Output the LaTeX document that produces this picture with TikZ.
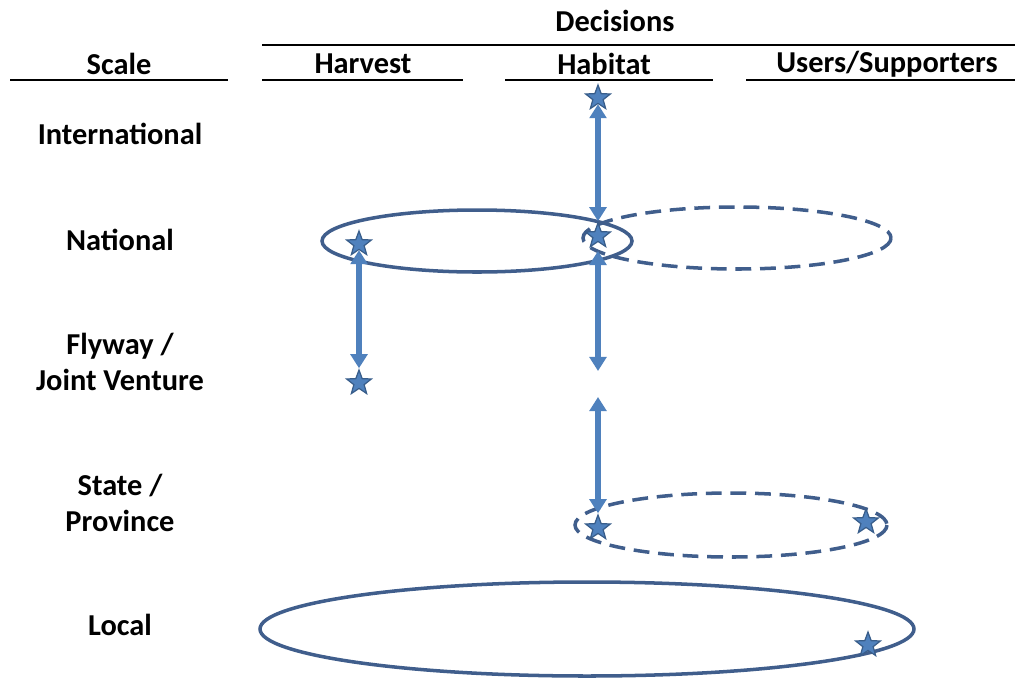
\documentclass[tikz,border=0pt]{standalone}
\usepackage{fontspec}
\setmainfont{Carlito}
\usetikzlibrary{shapes.geometric,arrows.meta}

\definecolor{ringblue}{RGB}{64,94,140}
\definecolor{arrowblue}{RGB}{79,129,189}
\definecolor{starline}{RGB}{56,93,138}

\tikzset{
  head/.style={font=\fontsize{17.3}{20}\selectfont\bfseries, align=center},
  rule/.style={line width=1.6pt},
  ring/.style={draw=ringblue, line width=2pt},
  dashring/.style={ring, dash pattern=on 9pt off 5pt},
  staricon/.style={star, star points=5, star point ratio=2.4, fill=arrowblue,
    draw=starline, line width=0.7pt, minimum size=0.52cm, inner sep=0pt},
  link/.style={draw=arrowblue, line width=3pt,
    {Triangle[width=9.5pt,length=8pt]}-{Triangle[width=9.5pt,length=8pt]}}
}

\begin{document}
\begin{tikzpicture}[x=0.02cm, y=-0.02cm]
\useasboundingbox (0,0) rectangle (1015,677);
% headings
\node[head] (decisions) at (615,21) {Decisions};
\node[head] (scale) at (119,64) {Scale};
\node[head] (harvest) at (363,64) {Harvest};
\node[head] (habitat) at (604,64) {Habitat};
\node[head] (users) at (887,64) {Users/Supporters};
\draw[rule] (262,45) -- (1015,45);
\draw[rule] (10,80) -- (228,80)
            (262,80) -- (463,80)
            (505,80) -- (713,80)
            (746,80) -- (1015,80);
% scales
\node[head] (intl) at (120,134) {International};
\node[head] (natl) at (120,240) {National};
\node[head] (flyway) at (120,362) {Flyway /\\Joint Venture};
\node[head] (state) at (120,503) {State /\\Province};
\node[head] (local) at (120,625) {Local};
% rings
\draw[ring] (477,241) ellipse (155 and 31);
\draw[dashring] (737,238) ellipse (154 and 31);
\draw[dashring] (731,525) ellipse (156 and 32);
\draw[ring] (587,629) ellipse (327 and 47);
% stars
\node[staricon] (hInt) at (598,98) {};
\node[staricon] (hNat) at (598,236) {};
\node[staricon] (hState) at (598,528) {};
\node[staricon] (vNat) at (359,244) {};
\node[staricon] (vFly) at (359,383) {};
\node[staricon] (uState) at (866,522) {};
\node[staricon] (uLocal) at (868,645) {};
\coordinate (hFlyA) at (598,371);
\coordinate (hFlyB) at (598,397);
% arrows
\draw[link] (hInt) -- (hNat);
\draw[link, shorten <=5pt] (hNat) -- (hFlyA);
\draw[link] (hFlyB) -- (hState);
\draw[link] (vNat) -- (vFly);
\end{tikzpicture}
\end{document}
